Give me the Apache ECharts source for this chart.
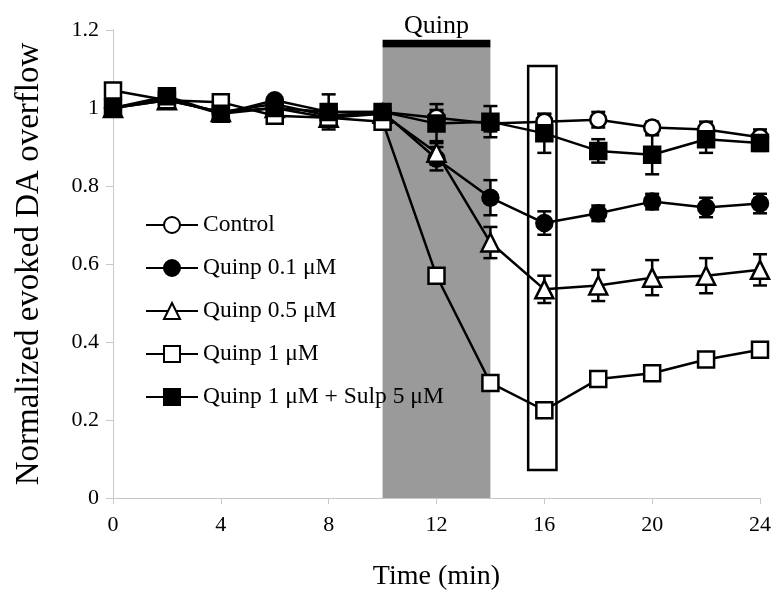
<!DOCTYPE html>
<html>
<head>
<meta charset="utf-8">
<title>Evoked DA overflow</title>
<script src="https://cdn.jsdelivr.net/npm/echarts@6/dist/echarts.min.js"></script>
<style>
  html, body { margin: 0; padding: 0; background: #fff; }
  #chart { width: 774px; height: 600px; }
</style>
</head>
<body>
<div id="chart"></div>
<script>
// sampling times (min)
const times = [0, 2, 4, 6, 8, 10, 12, 14, 16, 18, 20, 22, 24]

// means and SEM
const control = [1.0, 1.02, 0.99, 1.01, 0.98, 0.99, 0.975, 0.96, 0.965, 0.97, 0.95, 0.945, 0.925]
const controlErr = [0.01, 0.01, 0.01, 0.01, 0.01, 0.01, 0.02, 0.02, 0.02, 0.02, 0.015, 0.02, 0.02]

const quinp01 = [1.0, 1.025, 0.985, 1.02, 0.99, 0.99, 0.87, 0.77, 0.705, 0.73, 0.76, 0.745, 0.755]
const quinp01Err = [0.01, 0.01, 0.01, 0.01, 0.01, 0.01, 0.03, 0.045, 0.03, 0.02, 0.02, 0.025, 0.025]

const quinp05 = [1.0, 1.02, 0.99, 1.0, 0.975, 0.985, 0.885, 0.655, 0.535, 0.545, 0.565, 0.57, 0.585]
const quinp05Err = [0.01, 0.01, 0.01, 0.01, 0.02, 0.01, 0.03, 0.04, 0.035, 0.04, 0.045, 0.045, 0.04]

const quinp1 = [1.045, 1.02, 1.015, 0.98, 0.975, 0.965, 0.57, 0.295, 0.225, 0.305, 0.32, 0.355, 0.38]
const quinp1Err = [0.01, 0.01, 0.01, 0.01, 0.01, 0.01, 0.015, 0.01, 0.01, 0.01, 0.015, 0.015, 0.015]

const quinpSulp = [1.0, 1.03, 0.985, 1.0, 0.99, 0.99, 0.96, 0.965, 0.935, 0.89, 0.88, 0.92, 0.91]
const quinpSulpErr = [0.01, 0.015, 0.01, 0.01, 0.045, 0.01, 0.05, 0.04, 0.05, 0.03, 0.05, 0.035, 0.02]

// drug application period and highlighted time point
const quinpPeriod = [10, 14]
const quinpBar = [1.155, 1.175]
const highlightBox = { x: [15.4, 16.45], y: [0.072, 1.108] }

const xTicks = [0, 4, 8, 12, 16, 20, 24]

const font = 'Liberation Serif'
const chart = echarts.init(document.getElementById('chart'))

function pairs(values) {
  return times.map((t, i) => [t, values[i]])
}

function errData(values, errs) {
  return times.map((t, i) => [t, values[i] - errs[i], values[i] + errs[i]])
}

function renderErr(params, api) {
  const x = api.value(0)
  const lo = api.coord([x, api.value(1)])
  const hi = api.coord([x, api.value(2)])
  const half = 7
  const style = { stroke: '#000', lineWidth: 2.5 }
  return {
    type: 'group',
    children: [
      { type: 'line', shape: { x1: lo[0], y1: lo[1], x2: hi[0], y2: hi[1] }, style },
      { type: 'line', shape: { x1: lo[0] - half, y1: lo[1], x2: lo[0] + half, y2: lo[1] }, style },
      { type: 'line', shape: { x1: hi[0] - half, y1: hi[1], x2: hi[0] + half, y2: hi[1] }, style }
    ]
  }
}

const groups = [
  { name: 'Control', values: control, errs: controlErr, symbol: 'circle', size: 16, fill: '#fff' },
  { name: 'Quinp 0.1 μM', values: quinp01, errs: quinp01Err, symbol: 'circle', size: 16, fill: '#000' },
  { name: 'Quinp 0.5 μM', values: quinp05, errs: quinp05Err, symbol: 'triangle', size: 18, fill: '#fff' },
  { name: 'Quinp 1 μM', values: quinp1, errs: quinp1Err, symbol: 'rect', size: 16, fill: '#fff' },
  { name: 'Quinp 1 μM + Sulp 5 μM', values: quinpSulp, errs: quinpSulpErr, symbol: 'rect', size: 16, fill: '#000' }
]

const series = [
  {
    name: 'annotations',
    type: 'line',
    data: [],
    z: 1,
    silent: true,
    markArea: {
      silent: true,
      data: [
        [
          { xAxis: quinpPeriod[0], yAxis: 0, itemStyle: { color: '#9a9a9a' } },
          { xAxis: quinpPeriod[1], yAxis: quinpBar[0] }
        ],
        [
          {
            xAxis: quinpPeriod[0], yAxis: quinpBar[0],
            itemStyle: { color: '#000' },
            label: {
              show: true, position: 'top', distance: 1, formatter: 'Quinp',
              color: '#000', fontFamily: font, fontSize: 26
            }
          },
          { xAxis: quinpPeriod[1], yAxis: quinpBar[1] }
        ],
        [
          {
            xAxis: highlightBox.x[0], yAxis: highlightBox.y[0],
            itemStyle: { color: 'rgba(0,0,0,0)', borderColor: '#000', borderWidth: 2.5 }
          },
          { xAxis: highlightBox.x[1], yAxis: highlightBox.y[1] }
        ]
      ]
    }
  }
]

groups.forEach((g) => {
  series.push({
    name: g.name + ' err',
    type: 'custom',
    renderItem: renderErr,
    data: errData(g.values, g.errs),
    encode: { x: 0, y: [1, 2] },
    z: 2,
    silent: true
  })
})

groups.forEach((g, i) => {
  series.push({
    name: g.name,
    type: 'line',
    data: pairs(g.values),
    symbol: g.symbol,
    symbolSize: g.size,
    showAllSymbol: true,
    z: 3 + i,
    lineStyle: { color: '#000', width: 2.5 },
    itemStyle: { color: g.fill, borderColor: '#000', borderWidth: 2.5 },
    emphasis: { disabled: true },
    animation: false
  })
})

chart.setOption({
  backgroundColor: '#fff',
  animation: false,
  grid: { left: 113, right: 14, top: 30, bottom: 102 },
  legend: {
    data: groups.map((g) => g.name),
    orient: 'vertical',
    left: 140,
    top: 208,
    itemWidth: 52,
    itemHeight: 20,
    itemGap: 19,
    textStyle: { fontFamily: font, fontSize: 23.5, color: '#000', lineHeight: 24 },
    selectedMode: false
  },
  xAxis: {
    type: 'value',
    min: 0,
    max: 24,
    interval: 4,
    name: 'Time (min)',
    nameLocation: 'middle',
    nameGap: 65,
    nameTextStyle: { fontFamily: font, fontSize: 28, color: '#000' },
    axisLine: { lineStyle: { color: '#c8c8c8', width: 1 } },
    axisTick: { show: true, length: 6, lineStyle: { color: '#c8c8c8' } },
    axisLabel: {
      fontFamily: font, fontSize: 22, color: '#000', margin: 16,
      customValues: xTicks
    },
    splitLine: { show: false }
  },
  yAxis: {
    type: 'value',
    min: 0,
    max: 1.2,
    interval: 0.2,
    name: 'Normalized evoked DA overflow',
    nameLocation: 'middle',
    nameGap: 67,
    nameTextStyle: { fontFamily: font, fontSize: 33, color: '#000' },
    axisLine: { show: true, lineStyle: { color: '#c8c8c8', width: 1 } },
    axisTick: { show: true, length: 7, lineStyle: { color: '#c8c8c8' } },
    axisLabel: { fontFamily: font, fontSize: 22, color: '#000', margin: 14 },
    splitLine: { show: false }
  },
  series: series
})
</script>
</body>
</html>
